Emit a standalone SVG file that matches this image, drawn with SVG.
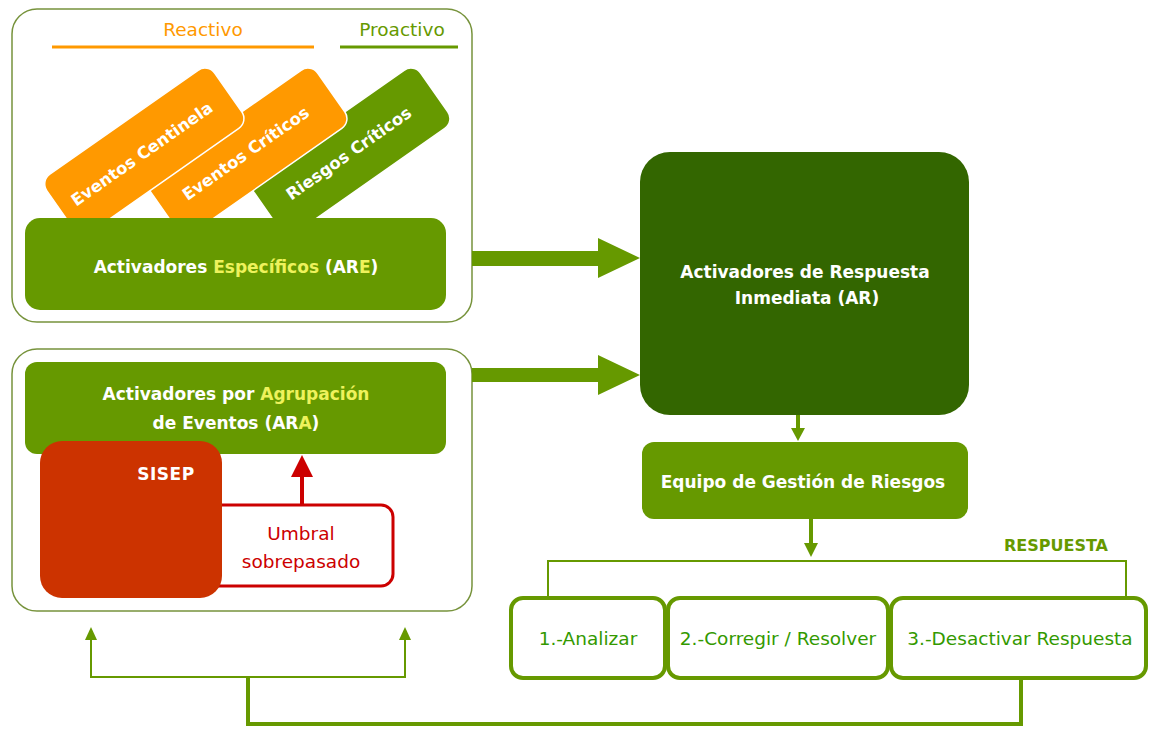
<svg xmlns="http://www.w3.org/2000/svg" width="1149" height="729" viewBox="0 0 1149 729">
  <defs>
    <style>
      .frame{fill:#fff;stroke:#77933c;stroke-width:1.5}
      .lbl{font-family:"DejaVu Sans","Open Sans",sans-serif;font-weight:bold;font-size:17px;fill:#fff;text-anchor:middle}
      .tl{font-size:16.5px}
      .hl{fill:#eef25c}
      .tilt{fill:#ff9900;stroke:#fff;stroke-width:1.5}
      .tilt-g{fill:#669900;stroke:#fff;stroke-width:1.5}
      .step{fill:#fff;stroke:#669900;stroke-width:4}
      .steptxt{font-family:"DejaVu Sans","Open Sans",sans-serif;font-size:18.5px;fill:#339900;text-anchor:middle}
      .cap{font-family:"DejaVu Sans","Open Sans",sans-serif;font-size:18.5px;text-anchor:middle}
      .red{font-family:"DejaVu Sans","Open Sans",sans-serif;font-size:18.5px;fill:#cc0000;text-anchor:middle}
      .wire{fill:none;stroke:#669900}
      .head{fill:#669900}
    </style>
  </defs>
  <rect width="1149" height="729" fill="#fff"/>

  <!-- upper frame: specific triggers -->
  <g id="frame-are">
    <rect class="frame" x="12" y="9" width="460" height="313" rx="25"/>
    <text class="cap" x="203" y="36" fill="#ff9900">Reactivo</text>
    <line x1="52" y1="47" x2="314" y2="47" stroke="#ff9900" stroke-width="3"/>
    <text class="cap" x="402" y="36" fill="#669900">Proactivo</text>
    <line x1="340" y1="47" x2="458" y2="47" stroke="#669900" stroke-width="3"/>
  </g>

  <g id="riesgos-criticos" transform="translate(246,181) rotate(-35)">
    <rect class="tilt-g" width="205" height="71" rx="12"/>
    <text class="lbl tl" x="100" y="42">Riesgos Críticos</text>
  </g>
  <g id="eventos-criticos" transform="translate(143,181) rotate(-35)">
    <rect class="tilt" width="205" height="71" rx="12"/>
    <text class="lbl tl" x="100" y="42">Eventos Críticos</text>
  </g>
  <g id="eventos-centinela" transform="translate(40,181) rotate(-35)">
    <rect class="tilt" width="205" height="71" rx="12"/>
    <text class="lbl tl" x="99" y="42">Eventos Centinela</text>
  </g>

  <g id="are">
    <rect x="25" y="218" width="421" height="92" rx="15" fill="#669900"/>
    <text class="lbl" x="236" y="273">Activadores <tspan class="hl">Específicos</tspan> (AR<tspan class="hl">E</tspan>)</text>
  </g>

  <!-- lower frame: grouped-event triggers -->
  <g id="frame-ara">
    <rect class="frame" x="12" y="349" width="460" height="262" rx="25"/>
  </g>
  <g id="ara">
    <rect x="25" y="362" width="421" height="92" rx="12" fill="#669900"/>
    <text class="lbl" x="236" y="400">Activadores por <tspan class="hl">Agrupación</tspan></text>
    <text class="lbl" x="236" y="429">de Eventos (AR<tspan class="hl">A</tspan>)</text>
  </g>
  <g id="umbral">
    <rect x="205" y="505" width="188" height="81" rx="12" fill="#fff" stroke="#cc0000" stroke-width="3"/>
    <text class="red" x="301" y="540">Umbral</text>
    <text class="red" x="301" y="568">sobrepasado</text>
  </g>
  <g id="sisep">
    <rect x="40" y="441" width="182" height="157" rx="22" fill="#cc3300"/>
    <text class="lbl" x="166" y="480" style="letter-spacing:0.5px">SISEP</text>
  </g>

  <g id="ar">
    <rect x="640" y="152" width="329" height="263" rx="30" fill="#336600"/>
    <text class="lbl" x="805" y="278">Activadores de Respuesta</text>
    <text class="lbl" x="807" y="304">Inmediata (AR)</text>
  </g>

  <g id="equipo">
    <rect x="642" y="442" width="326" height="77" rx="12" fill="#669900"/>
    <text class="lbl" x="803" y="488">Equipo de Gestión de Riesgos</text>
  </g>

  <g id="respuesta">
    <text x="1056" y="551" font-family="DejaVu Sans, Open Sans, sans-serif" font-size="16" font-weight="bold" fill="#669900" text-anchor="middle">RESPUESTA</text>
  </g>
  <g id="analizar">
    <rect class="step" x="511" y="598" width="154" height="80" rx="12"/>
    <text class="steptxt" x="588" y="645">1.-Analizar</text>
  </g>
  <g id="corregir">
    <rect class="step" x="668" y="598" width="220" height="80" rx="12"/>
    <text class="steptxt" x="778" y="645">2.-Corregir / Resolver</text>
  </g>
  <g id="desactivar">
    <rect class="step" x="891" y="598" width="255" height="80" rx="12"/>
    <text class="steptxt" x="1020" y="645">3.-Desactivar Respuesta</text>
  </g>

  <!-- connectors -->
  <g id="connectors">
    <polygon class="head" points="472,251 598,251 598,238 640,258 598,278 598,266 472,266"/>
    <polygon class="head" points="472,368 598,368 598,355 640,375 598,395 598,382 472,382"/>

    <line x1="302" y1="505" x2="302" y2="474" stroke="#cc0000" stroke-width="4"/>
    <polygon points="291,477 313,477 302,455" fill="#cc0000"/>

    <line class="wire" x1="798" y1="415" x2="798" y2="430" stroke-width="4"/>
    <polygon class="head" points="791,428 805,428 798,441"/>

    <line class="wire" x1="811" y1="519" x2="811" y2="545" stroke-width="4"/>
    <polygon class="head" points="804,543 818,543 811,557"/>

    <polyline class="wire" points="548,598 548,561 1126,561 1126,598" stroke-width="2"/>

    <polyline class="wire" points="1021,678 1021,724 248,724 248,677" stroke-width="4"/>
    <polyline class="wire" points="91,638 91,677 405,677 405,638" stroke-width="2"/>
    <polygon class="head" points="85,640 97,640 91,627"/>
    <polygon class="head" points="399,640 411,640 405,627"/>
  </g>
</svg>
